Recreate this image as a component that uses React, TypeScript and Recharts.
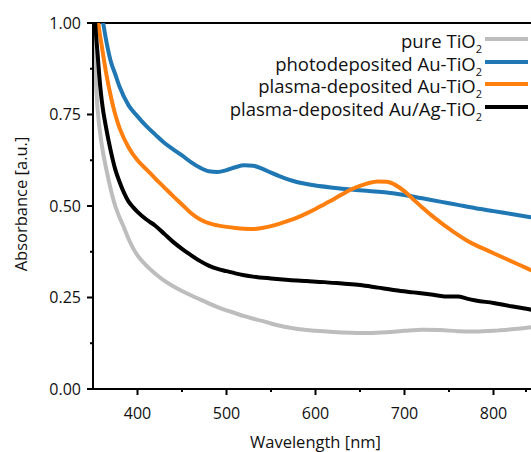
import React from 'react';
import { LineChart, Line, XAxis, YAxis, Legend, ReferenceLine } from 'recharts';

const FONT = '"Open Sans", "Segoe UI", sans-serif';

// Series names (subscript "2" added in legend) and colours
const seriesNames = ['pure TiO', 'photodeposited Au-TiO', 'plasma-deposited Au-TiO', 'plasma-deposited Au/Ag-TiO'];
const seriesColors = ['#bdbdbd', '#1f77b4', '#ff7f0e', '#000000'];

// pure TiO2
const pureWl = [350, 352, 355, 360, 365, 370, 375, 380, 385, 390, 395, 400, 410, 420, 430, 440, 450, 460, 470, 480, 490, 500, 510, 520, 530, 540, 550, 560, 570, 580, 590, 600, 620, 640, 660, 680, 700, 720, 740, 760, 780, 800, 820, 840, 850];
const pureAbs = [1.02, 0.9, 0.77, 0.665, 0.6, 0.545, 0.5, 0.468, 0.44, 0.41, 0.385, 0.365, 0.337, 0.315, 0.296, 0.281, 0.268, 0.256, 0.245, 0.234, 0.224, 0.215, 0.207, 0.199, 0.192, 0.186, 0.179, 0.173, 0.168, 0.164, 0.161, 0.159, 0.156, 0.154, 0.153, 0.155, 0.159, 0.162, 0.161, 0.158, 0.157, 0.159, 0.163, 0.168, 0.171];

// photodeposited Au-TiO2
const photoWl = [350, 355, 360, 365, 370, 375, 380, 390, 400, 410, 420, 430, 440, 450, 460, 470, 480, 490, 500, 510, 520, 530, 540, 550, 560, 570, 580, 590, 600, 620, 640, 660, 680, 700, 720, 740, 760, 780, 800, 820, 840, 850];
const photoAbs = [1.2, 1.08, 1.02, 0.95, 0.895, 0.86, 0.825, 0.775, 0.745, 0.718, 0.695, 0.673, 0.655, 0.638, 0.62, 0.605, 0.595, 0.593, 0.598, 0.606, 0.611, 0.61, 0.602, 0.591, 0.581, 0.572, 0.565, 0.56, 0.556, 0.55, 0.545, 0.541, 0.537, 0.53, 0.521, 0.512, 0.503, 0.494, 0.486, 0.478, 0.47, 0.466];

// plasma-deposited Au-TiO2
const plasmaAuWl = [350, 354, 356, 360, 365, 370, 375, 380, 390, 400, 410, 420, 430, 440, 450, 460, 470, 480, 490, 500, 510, 520, 530, 540, 550, 560, 570, 580, 590, 600, 610, 620, 630, 640, 650, 660, 670, 680, 690, 700, 710, 720, 730, 740, 750, 760, 770, 780, 790, 800, 810, 820, 830, 840, 850];
const plasmaAuAbs = [1.3, 1.05, 1.0, 0.935, 0.86, 0.8, 0.75, 0.712, 0.66, 0.625, 0.6, 0.575, 0.551, 0.527, 0.504, 0.481, 0.464, 0.453, 0.447, 0.443, 0.44, 0.438, 0.437, 0.44, 0.445, 0.452, 0.46, 0.469, 0.48, 0.492, 0.505, 0.518, 0.532, 0.545, 0.555, 0.563, 0.567, 0.566, 0.557, 0.54, 0.518, 0.496, 0.475, 0.456, 0.438, 0.421, 0.406, 0.393, 0.382, 0.371, 0.36, 0.349, 0.338, 0.327, 0.317];

// plasma-deposited Au/Ag-TiO2
const plasmaAuAgWl = [350, 353, 355, 358, 360, 365, 370, 375, 380, 385, 390, 395, 400, 410, 420, 430, 440, 450, 460, 470, 480, 490, 500, 510, 520, 530, 550, 570, 590, 610, 630, 650, 670, 690, 710, 730, 745, 760, 770, 780, 800, 820, 840, 850];
const plasmaAuAgAbs = [1.08, 0.98, 0.92, 0.83, 0.785, 0.71, 0.65, 0.6, 0.565, 0.535, 0.512, 0.497, 0.484, 0.463, 0.446, 0.424, 0.402, 0.383, 0.366, 0.35, 0.337, 0.328, 0.322, 0.316, 0.311, 0.307, 0.302, 0.298, 0.295, 0.292, 0.288, 0.284, 0.277, 0.27, 0.264, 0.258, 0.253, 0.253, 0.247, 0.242, 0.235, 0.226, 0.218, 0.213];

// ticks
const xTicks = [400, 450, 500, 550, 600, 650, 700, 750, 800, 850];
const xMajorTicks = [400, 500, 600, 700, 800];
const xTickLabels = ['400', '500', '600', '700', '800'];
const yTicks = [0, 0.125, 0.25, 0.375, 0.5, 0.625, 0.75, 0.875, 1];
const yMajorTicks = [0, 0.25, 0.5, 0.75, 1];
const yTickLabels = ['0.00', '0.25', '0.50', '0.75', '1.00'];

const zip = (xs: number[], ys: number[]) => xs.map((x, i) => ({ x, y: ys[i] }));
const seriesData = [
  zip(pureWl, pureAbs),
  zip(photoWl, photoAbs),
  zip(plasmaAuWl, plasmaAuAbs),
  zip(plasmaAuAgWl, plasmaAuAgAbs),
];

const YTick = (props: any) => {
  const { x, y, payload } = props;
  const idx = yMajorTicks.indexOf(payload.value);
  const major = idx >= 0;
  return (
    <g>
      <line x1={x - (major ? 6 : 3)} x2={x} y1={y} y2={y} stroke="#000" strokeWidth={2} />
      {major && (
        <text x={x - 12} y={y} dy="0.35em" textAnchor="end" fontSize={16} fontFamily={FONT} fill="#111">
          {yTickLabels[idx]}
        </text>
      )}
    </g>
  );
};

const XTick = (props: any) => {
  const { x, y, payload } = props;
  const idx = xMajorTicks.indexOf(payload.value);
  const major = idx >= 0;
  return (
    <g>
      <line x1={x} x2={x} y1={y} y2={y + (major ? 6 : 3)} stroke="#000" strokeWidth={2} />
      {major && (
        <text x={x} y={y + 24} dy="0.35em" textAnchor="middle" fontSize={16} fontFamily={FONT} fill="#111">
          {xTickLabels[idx]}
        </text>
      )}
    </g>
  );
};

const XTitle = (props: any) => {
  const vb = props.viewBox || { x: 93, y: 389, width: 445, height: 63 };
  return (
    <text x={vb.x + vb.width / 2} y={vb.y + 59} textAnchor="middle" fontSize={16.5} fontFamily={FONT} fill="#111">
      Wavelength [nm]
    </text>
  );
};

const YTitle = (props: any) => {
  const vb = props.viewBox || { x: 0, y: 23, width: 93, height: 366 };
  const cy = vb.y + vb.height / 2 - 2;
  return (
    <text transform={`translate(26.5, ${cy}) rotate(-90)`} x={0} y={0} textAnchor="middle" fontSize={16.5} fontFamily={FONT} fill="#111">
      Absorbance [a.u.]
    </text>
  );
};

const renderLegend = (props: any) => {
  const payload = props.payload || [];
  const rows = seriesNames.map((n, i) => {
    const entry = payload.find((p: any) => p.value === n);
    return { name: n, color: entry ? entry.color : seriesColors[i] };
  });
  return (
    <div style={{ fontFamily: FONT, fontSize: 18.5, color: '#111' }}>
      {rows.map((entry, i) => (
        <div key={i} style={{ display: 'flex', justifyContent: 'flex-end', alignItems: 'center', height: 22.6 }}>
          <span style={{ whiteSpace: 'nowrap', lineHeight: '20px', position: 'relative', top: 1 }}>
            {entry.name}
            <sub style={{ fontSize: 11, lineHeight: 0, verticalAlign: '-5px' }}>2</sub>
          </span>
          <span
            style={{
              display: 'inline-block',
              width: 43,
              height: 4,
              background: entry.color,
              marginLeft: 3,
              position: 'relative',
              top: -1,
            }}
          />
        </div>
      ))}
    </div>
  );
};

export default function App() {
  return (
    <div style={{ position: 'fixed', top: 0, left: 0, width: 531, height: 452, overflow: 'hidden', background: '#fff' }}>
      <LineChart width={538} height={452} margin={{ top: 23, right: 0, bottom: 0, left: 0 }}>
        <XAxis
          dataKey="x"
          type="number"
          domain={[350, 850]}
          allowDataOverflow
          ticks={xTicks}
          tick={<XTick />}
          tickLine={false}
          tickSize={0}
          tickMargin={0}
          height={63}
          axisLine={{ stroke: '#000', strokeWidth: 2 }}
          label={<XTitle />}
        />
        <YAxis
          type="number"
          domain={[0, 1]}
          allowDataOverflow
          ticks={yTicks}
          tick={<YTick />}
          tickLine={false}
          tickSize={0}
          tickMargin={0}
          width={93}
          axisLine={{ stroke: '#000', strokeWidth: 2 }}
          label={<YTitle />}
        />
        <ReferenceLine y={1} stroke="#000" strokeWidth={2} />
        {seriesData.map((d, i) => (
          <Line
            key={i}
            data={d}
            dataKey="y"
            name={seriesNames[i]}
            type="monotone"
            stroke={seriesColors[i]}
            strokeWidth={4}
            dot={false}
            activeDot={false}
            isAnimationActive={false}
          />
        ))}
        <Legend
          layout="vertical"
          align="center"
          verticalAlign="middle"
          content={renderLegend}
          wrapperStyle={{ top: 29, right: 10, left: 'auto', bottom: 'auto', width: 'auto' }}
        />
      </LineChart>
    </div>
  );
}
